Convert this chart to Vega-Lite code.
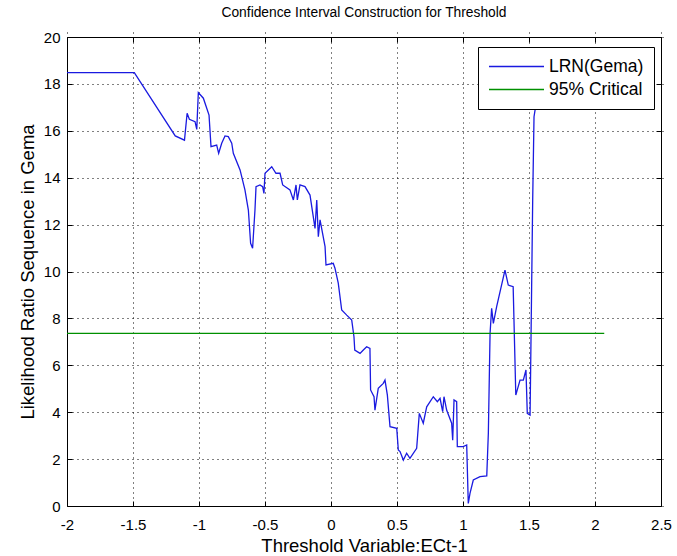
{
  "$schema": "https://vega.github.io/schema/vega-lite/v6.json",
  "width": 594,
  "height": 469,
  "autosize": {"type": "none"},
  "padding": {"left": 67, "top": 37, "right": 16, "bottom": 50},
  "background": "white",
  "title": {"text": "Confidence Interval Construction for Threshold", "fontSize": 13.8, "font": "Liberation Sans", "fontWeight": "normal", "color": "#000000", "offset": 10, "anchor": "middle"},
  "config": {
    "view": {"stroke": "#000000", "strokeWidth": 1},
    "axis": {
      "domain": false, "tickColor": "#000000", "tickSize": 5, "offset": -5,
      "labelFont": "Liberation Sans", "labelFontSize": 15, "labelColor": "#000000",
      "titleFont": "Liberation Sans", "titleFontSize": 18.5, "titleFontWeight": "normal", "titleColor": "#000000",
      "gridColor": "#000000", "gridDash": [1, 4], "gridOpacity": 1, "gridWidth": 1
    }
  },
  "datasets": {
    "lrn": [
      {"x": -2, "y": 18.48}, {"x": -1.49, "y": 18.48}, {"x": -1.18, "y": 15.78}, {"x": -1.11, "y": 15.6},
      {"x": -1.09, "y": 16.75}, {"x": -1.073, "y": 16.49}, {"x": -1.03, "y": 16.39}, {"x": -1.017, "y": 16.06},
      {"x": -1.005, "y": 17.63}, {"x": -0.967, "y": 17.39}, {"x": -0.924, "y": 16.67}, {"x": -0.909, "y": 15.32},
      {"x": -0.866, "y": 15.39}, {"x": -0.851, "y": 15.04}, {"x": -0.828, "y": 15.47}, {"x": -0.803, "y": 15.78},
      {"x": -0.778, "y": 15.75}, {"x": -0.752, "y": 15.47}, {"x": -0.74, "y": 15.04}, {"x": -0.689, "y": 14.33},
      {"x": -0.652, "y": 13.48}, {"x": -0.626, "y": 12.62}, {"x": -0.609, "y": 11.2}, {"x": -0.594, "y": 10.99},
      {"x": -0.576, "y": 12.62}, {"x": -0.568, "y": 13.62}, {"x": -0.538, "y": 13.69}, {"x": -0.518, "y": 13.62},
      {"x": -0.508, "y": 13.33}, {"x": -0.5, "y": 14.19}, {"x": -0.449, "y": 14.47}, {"x": -0.417, "y": 14.19},
      {"x": -0.386, "y": 14.19}, {"x": -0.366, "y": 13.69}, {"x": -0.311, "y": 13.48}, {"x": -0.285, "y": 13.05},
      {"x": -0.265, "y": 13.69}, {"x": -0.255, "y": 13.05}, {"x": -0.235, "y": 13.69}, {"x": -0.197, "y": 13.62},
      {"x": -0.159, "y": 13.26}, {"x": -0.121, "y": 11.84}, {"x": -0.108, "y": 13.05}, {"x": -0.096, "y": 11.48},
      {"x": -0.083, "y": 12.2}, {"x": -0.045, "y": 11.06}, {"x": -0.038, "y": 10.28}, {"x": 0.017, "y": 10.35},
      {"x": 0.03, "y": 10.14}, {"x": 0.055, "y": 9.5}, {"x": 0.081, "y": 8.36}, {"x": 0.119, "y": 8.14},
      {"x": 0.157, "y": 7.93}, {"x": 0.174, "y": 7.22}, {"x": 0.18, "y": 6.65}, {"x": 0.22, "y": 6.51},
      {"x": 0.245, "y": 6.65}, {"x": 0.27, "y": 6.79}, {"x": 0.295, "y": 6.72}, {"x": 0.3, "y": 4.95},
      {"x": 0.326, "y": 4.66}, {"x": 0.333, "y": 4.09}, {"x": 0.358, "y": 5.02}, {"x": 0.396, "y": 5.23},
      {"x": 0.409, "y": 5.37}, {"x": 0.427, "y": 4.73}, {"x": 0.447, "y": 3.38}, {"x": 0.498, "y": 3.31},
      {"x": 0.51, "y": 2.39}, {"x": 0.523, "y": 2.32}, {"x": 0.548, "y": 1.96}, {"x": 0.573, "y": 2.25},
      {"x": 0.598, "y": 2.03}, {"x": 0.649, "y": 2.46}, {"x": 0.669, "y": 3.95}, {"x": 0.699, "y": 3.53},
      {"x": 0.725, "y": 4.23}, {"x": 0.775, "y": 4.66}, {"x": 0.806, "y": 4.45}, {"x": 0.826, "y": 4.59},
      {"x": 0.846, "y": 4.02}, {"x": 0.856, "y": 4.66}, {"x": 0.876, "y": 4.09}, {"x": 0.914, "y": 3.53},
      {"x": 0.922, "y": 2.81}, {"x": 0.932, "y": 4.52}, {"x": 0.952, "y": 4.45}, {"x": 0.957, "y": 2.53},
      {"x": 1.002, "y": 2.53}, {"x": 1.028, "y": 2.6}, {"x": 1.04, "y": 0.11}, {"x": 1.053, "y": 0.54},
      {"x": 1.078, "y": 1.11}, {"x": 1.129, "y": 1.25}, {"x": 1.18, "y": 1.28}, {"x": 1.192, "y": 3.1},
      {"x": 1.205, "y": 7.36}, {"x": 1.217, "y": 8.43}, {"x": 1.23, "y": 7.79}, {"x": 1.255, "y": 8.5},
      {"x": 1.318, "y": 10.06}, {"x": 1.343, "y": 9.42}, {"x": 1.38, "y": 9.35}, {"x": 1.4, "y": 4.73},
      {"x": 1.432, "y": 5.37}, {"x": 1.457, "y": 5.37}, {"x": 1.477, "y": 5.8}, {"x": 1.487, "y": 3.95},
      {"x": 1.508, "y": 3.88}, {"x": 1.513, "y": 6.09}, {"x": 1.52, "y": 9.35}, {"x": 1.528, "y": 13.05},
      {"x": 1.538, "y": 16.6}, {"x": 1.55, "y": 17.03}, {"x": 1.556, "y": 18.8}
    ],
    "crit": [
      {"x": -2, "y": 7.36}, {"x": 2.07, "y": 7.36}
    ]
  },
  "layer": [
    {
      "data": {"name": "lrn"},
      "transform": [{"calculate": "'LRN(Gema)'", "as": "series"}],
      "mark": {"type": "line", "strokeWidth": 1.3},
      "encoding": {
        "x": {"field": "x", "type": "quantitative", "scale": {"domain": [-2, 2.5], "nice": false},
          "axis": {"values": [-2, -1.5, -1, -0.5, 0, 0.5, 1, 1.5, 2, 2.5], "labelExpr": "toString(datum.value)", "title": "Threshold Variable:ECt-1", "titlePadding": 4, "labelPadding": 11, "grid": true, "labelFlush": false}},
        "y": {"field": "y", "type": "quantitative", "scale": {"domain": [0, 20], "nice": false},
          "axis": {"values": [0, 2, 4, 6, 8, 10, 12, 14, 16, 18, 20], "labelExpr": "toString(datum.value)", "title": "Likelihood Ratio Sequence in Gema", "titlePadding": 6, "labelPadding": 7, "grid": true}},
        "color": {"field": "series", "type": "nominal",
          "scale": {"domain": ["LRN(Gema)", "95% Critical"], "range": ["#1a1ae0", "#009000"]},
          "legend": {"title": null, "orient": "none", "legendX": 411, "legendY": 10,
            "symbolType": "stroke", "symbolSize": 3025, "symbolStrokeWidth": 1.3, "clipHeight": 19,
            "labelFont": "Liberation Sans", "labelFontSize": 17.5, "labelColor": "#000000",
            "strokeColor": "#000000", "fillColor": "#ffffff", "padding": 10, "rowPadding": 4, "labelOffset": 4}}
      }
    },
    {
      "data": {"name": "crit"},
      "transform": [{"calculate": "'95% Critical'", "as": "series"}],
      "mark": {"type": "line", "strokeWidth": 1.3},
      "encoding": {
        "x": {"field": "x", "type": "quantitative", "axis": {"orient": "top", "labels": false, "title": null, "grid": false, "values": [-2, -1.5, -1, -0.5, 0, 0.5, 1, 1.5, 2, 2.5]}},
        "y": {"field": "y", "type": "quantitative", "axis": {"orient": "right", "labels": false, "title": null, "grid": false, "values": [0, 2, 4, 6, 8, 10, 12, 14, 16, 18, 20]}},
        "color": {"field": "series", "type": "nominal"}
      }
    }
  ],
  "resolve": {"axis": {"x": "independent", "y": "independent"}}
}
